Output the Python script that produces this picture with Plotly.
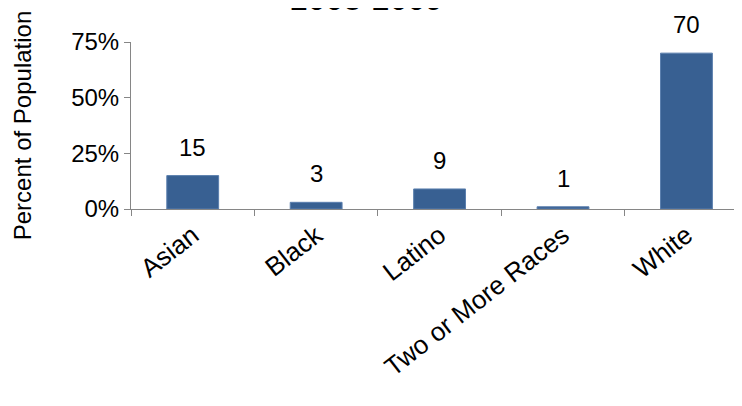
import plotly.graph_objects as go

categories = ["Asian", "Black", "Latino", "Two or More Races", "White"]
values = [15, 3, 9, 1, 70]
labels = ["15", "3", "9", "1", "70"]
y_ticks = [0, 25, 50, 75]
y_tick_text = ["0%", "25%", "50%", "75%"]
title_text = "2008-2009"

fig = go.Figure(go.Bar(
    x=categories, y=values,
    marker=dict(color="#386092", line=dict(width=1, color="#5b7fae")),
    width=0.42,
))
for c, v, t in zip(categories, values, labels):
    fig.add_annotation(x=c, y=v, text=t, showarrow=False, xanchor="center",
                       yanchor="bottom", yshift=13,
                       font=dict(size=24, color="#000000"))
fig.update_layout(
    width=734, height=398,
    margin=dict(l=123, r=0, t=34, b=197),
    plot_bgcolor="white", paper_bgcolor="white",
    font=dict(family="Liberation Sans, Arial, sans-serif", size=24, color="#000000"),
    showlegend=False,
    bargap=0.58,
)
fig.update_xaxes(
    range=[-0.5, 4.45], showline=True, linecolor="#868686", linewidth=1,
    ticks="outside", ticklen=6, tickcolor="#868686", tickson="boundaries",
    tickangle=-38, tickfont=dict(size=26), showgrid=False, automargin=False,
)
fig.update_yaxes(
    range=[0, 75], tickvals=y_ticks, ticktext=y_tick_text,
    showline=True, linecolor="#868686", linewidth=1,
    ticks="outside", ticklen=6, tickcolor="#868686", showgrid=False, zeroline=False,
    automargin=False,
    title=dict(text="Percent of Population", font=dict(size=24), standoff=32),
)
fig.add_annotation(text=title_text, xref="paper", yref="paper", x=0.386, y=1.135,
                   xanchor="center", yanchor="bottom", showarrow=False,
                   font=dict(size=32, color="#000000"))
fig.write_html("out.html")
